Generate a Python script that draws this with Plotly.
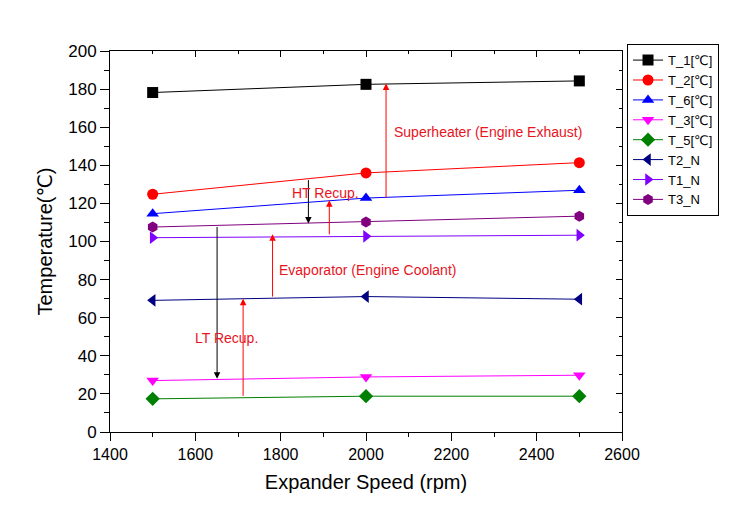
import plotly.graph_objects as go

# ---- data ----
speed = [1500, 2000, 2500]
T_1 = [178.2, 182.5, 184.3]
T_2 = [124.8, 136.0, 141.4]
T_6 = [114.6, 122.8, 126.9]
T_3 = [27.0, 28.9, 29.8]
T_5 = [17.4, 18.8, 18.8]
T2_N = [69.1, 71.1, 69.7]
T1_N = [102.0, 102.7, 103.3]
T3_N = [107.6, 110.3, 113.3]

series_names = ["T_1[℃]", "T_2[℃]", "T_6[℃]", "T_3[℃]", "T_5[℃]", "T2_N", "T1_N", "T3_N"]
series_vals = [T_1, T_2, T_6, T_3, T_5, T2_N, T1_N, T3_N]
colors = ["#000000", "#FF0000", "#0000FF", "#FF00FF", "#008000", "#000080", "#8000FF", "#800080"]
symbols = ["square", "circle", "triangle-up", "triangle-down", "diamond",
           "triangle-left", "triangle-right", "hexagon"]

# arrows: x position, tail value, head value, colour
arrow_x = [1651, 1712, 1781, 1865, 1914, 2047]
arrow_from = [108.4, 18.2, 70.3, 133.0, 103.0, 122.3]
arrow_to = [28.0, 70.0, 103.8, 109.4, 121.6, 182.9]
arrow_color = ["#000000", "#FF0000", "#FF0000", "#000000", "#FF0000", "#FF0000"]

# text labels
label_text = ["Superheater (Engine Exhaust)", "HT Recup.", "Evaporator (Engine Coolant)", "LT Recup."]
label_x = [2060, 1822, 1791, 1595]
label_y = [157.5, 125.5, 85.0, 49.5]

FONT = "Liberation Sans, Arial, DejaVu Sans, sans-serif"

fig = go.Figure()
for name, vals, c, s in zip(series_names, series_vals, colors, symbols):
    fig.add_trace(go.Scatter(
        x=speed, y=vals, name=name, mode="lines+markers",
        line=dict(color=c, width=1),
        marker=dict(symbol=s, color=c, size=11, line=dict(width=0)),
    ))

# dummy trace to activate the mirrored (inside-tick) axes
fig.add_trace(go.Scatter(x=[], y=[], xaxis="x2", yaxis="y2", showlegend=False, hoverinfo="skip"))

for ax_, f, t, c in zip(arrow_x, arrow_from, arrow_to, arrow_color):
    fig.add_annotation(
        x=ax_, y=t, ax=ax_, ay=f, xref="x", yref="y", axref="x", ayref="y",
        text="", showarrow=True, arrowhead=2, arrowsize=1.3, arrowwidth=1,
        arrowcolor=c, standoff=0, startstandoff=0,
    )

for txt, x, y in zip(label_text, label_x, label_y):
    fig.add_annotation(
        x=x, y=y, xref="x", yref="y", text=txt, showarrow=False,
        xanchor="left", yanchor="middle",
        font=dict(family=FONT, size=14, color="#E8141E"),
    )

fig.update_layout(
    width=731, height=520,
    margin=dict(l=110, r=109, t=51, b=88, autoexpand=False),
    paper_bgcolor="white", plot_bgcolor="white",
    font=dict(family=FONT, color="black"),
    showlegend=True,
    legend=dict(
        x=1.0098, y=1.018, xanchor="left", yanchor="top",
        bordercolor="black", borderwidth=1, bgcolor="white",
        font=dict(family=FONT, size=13, color="black"),
        tracegroupgap=0, itemwidth=30,
    ),
    xaxis=dict(
        range=[1400, 2600], dtick=200, tick0=1400, automargin=False,
        showgrid=False, zeroline=False,
        showline=True, linecolor="black", linewidth=1,
        ticks="outside", ticklen=8, tickwidth=1, tickcolor="black",
        minor=dict(dtick=100, ticks="outside", ticklen=4, tickcolor="black", showgrid=False),
        tickfont=dict(family=FONT, size=16, color="black"),
        title=dict(text="Expander Speed (rpm)", font=dict(family=FONT, size=20, color="black"), standoff=12),
    ),
    yaxis=dict(
        range=[0, 200], dtick=20, tick0=0, automargin=False,
        showgrid=False, zeroline=False,
        showline=True, linecolor="black", linewidth=1,
        ticks="outside", ticklen=9, tickwidth=1, tickcolor="black",
        minor=dict(dtick=10, ticks="outside", ticklen=5, tickcolor="black", showgrid=False),
        tickfont=dict(family=FONT, size=17, color="black"),
        title=dict(text="Temperature(℃)", font=dict(family=FONT, size=20, color="black"), standoff=10),
    ),
    xaxis2=dict(
        overlaying="x", side="top", anchor="y2", range=[1400, 2600], dtick=200, tick0=1400,
        showgrid=False, zeroline=False, showticklabels=False, automargin=False,
        showline=True, linecolor="black", linewidth=1,
        ticks="inside", ticklen=6, tickcolor="black",
        minor=dict(dtick=100, ticks="inside", ticklen=3, tickcolor="black", showgrid=False),
    ),
    yaxis2=dict(
        overlaying="y", side="right", anchor="x2", range=[0, 200], dtick=20, tick0=0,
        showgrid=False, zeroline=False, showticklabels=False, automargin=False,
        showline=True, linecolor="black", linewidth=1,
        ticks="inside", ticklen=6, tickcolor="black",
        minor=dict(dtick=10, ticks="inside", ticklen=3, tickcolor="black", showgrid=False),
    ),
)

fig.write_html("out.html", config={"displayModeBar": False},
               post_script="document.body.style.margin='0';")
